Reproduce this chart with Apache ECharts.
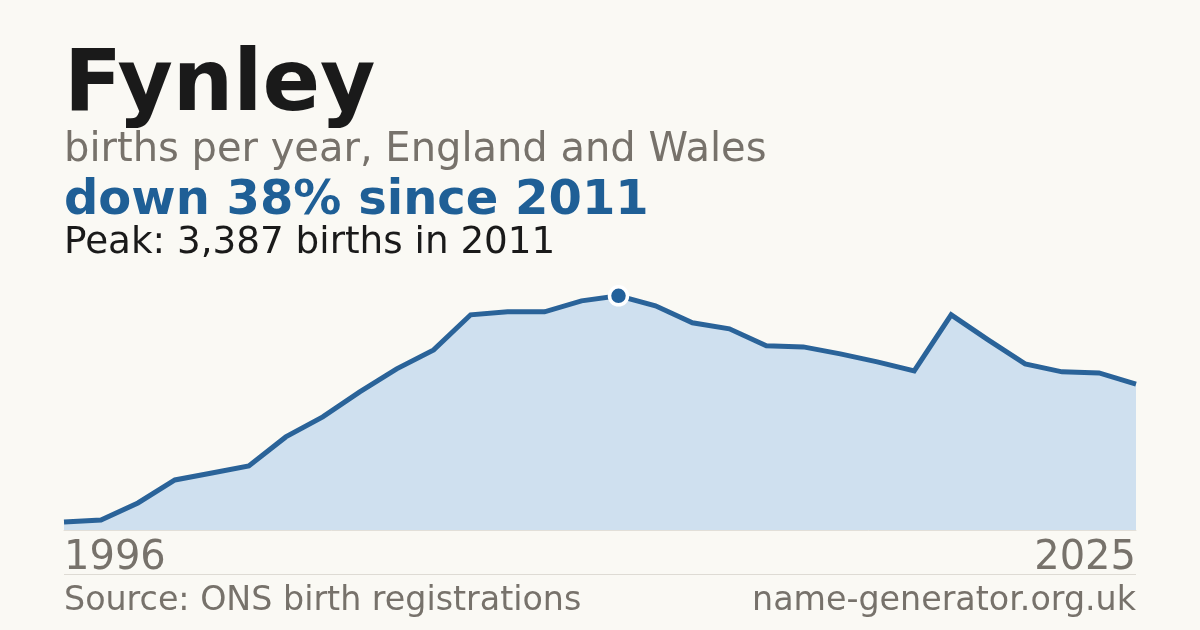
<!DOCTYPE html>
<html><head><meta charset="utf-8">
<script src="https://cdn.jsdelivr.net/npm/echarts@6/dist/echarts.min.js"></script>
<style>html,body{margin:0;padding:0;background:#faf9f4;}#c{width:1200px;height:630px;}</style>
</head><body><div id="c"></div>
<script>
const years = [1996,1997,1998,1999,2000,2001,2002,2003,2004,2005,2006,2007,2008,2009,2010,2011,2012,2013,2014,2015,2016,2017,2018,2019,2020,2021,2022,2023,2024,2025];
const births = [116,145,391,724,825,926,1346,1635,1997,2330,2605,3112,3155,3155,3314,3387,3242,2996,2909,2663,2648,2547,2431,2301,3112,2750,2402,2287,2272,2110];
const yMax = 3760;
const titleText = 'Fynley';
const subtitleText = 'births per year, England and Wales';
const headlineText = 'down 38% since 2011';
const peakText = 'Peak: 3,387 births in 2011';
const sourceText = 'Source: ONS birth registrations';
const siteText = 'name-generator.org.uk';

const F = 'DejaVu Sans';
const chart = echarts.init(document.getElementById('c'), null, {renderer:'canvas'});
chart.setOption({
  backgroundColor:'#faf9f4',
  animation:false,
  grid:{left:64,right:64,top:270,bottom:100},
  xAxis:{type:'category',data:years.map(String),boundaryGap:false,
    axisLine:{show:true,lineStyle:{color:'#e2dfd8',width:1}},
    axisTick:{show:false},
    axisLabel:{interval:28,fontFamily:F,fontSize:40,color:'#77726b',margin:9,alignMinLabel:'left',alignMaxLabel:'right'}},
  yAxis:{type:'value',min:0,max:yMax,show:false,splitLine:{show:false}},
  series:[{type:'line',data:births,showSymbol:false,smooth:false,
    lineStyle:{color:'#2a6399',width:5,join:'miter'},
    areaStyle:{color:'#cfe0ef',opacity:1},
    markPoint:{data:[{type:'max'}],symbol:'circle',symbolSize:18,
      itemStyle:{color:'#22609a',borderColor:'#ffffff',borderWidth:3.5},label:{show:false}}
  }],
  graphic:[
    {type:'text',silent:true,x:64,y:88,style:{text:titleText,font:'bold 85px "DejaVu Sans"',fill:'#1a1a1a',verticalAlign:'middle',align:'left'}},
    {type:'text',silent:true,x:64,y:151,style:{text:subtitleText,font:'40px "DejaVu Sans"',fill:'#77726b',verticalAlign:'middle',align:'left'}},
    {type:'text',silent:true,x:64,y:202,style:{text:headlineText,font:'bold 48px "DejaVu Sans"',fill:'#1f5f96',verticalAlign:'middle',align:'left'}},
    {type:'text',silent:true,x:64,y:243.5,style:{text:peakText,font:'37.3px "DejaVu Sans"',fill:'#1a1a1a',verticalAlign:'middle',align:'left'}},
    {type:'line',silent:true,shape:{x1:64,y1:574.5,x2:1136,y2:574.5},style:{stroke:'#dedbd4',lineWidth:1}},
    {type:'text',silent:true,x:64,y:601,style:{text:sourceText,font:'33.3px "DejaVu Sans"',fill:'#77726b',verticalAlign:'middle',align:'left'}},
    {type:'text',silent:true,x:1136,y:601,style:{text:siteText,font:'33.3px "DejaVu Sans"',fill:'#77726b',verticalAlign:'middle',align:'right'}}
  ]
});
</script></body></html>
